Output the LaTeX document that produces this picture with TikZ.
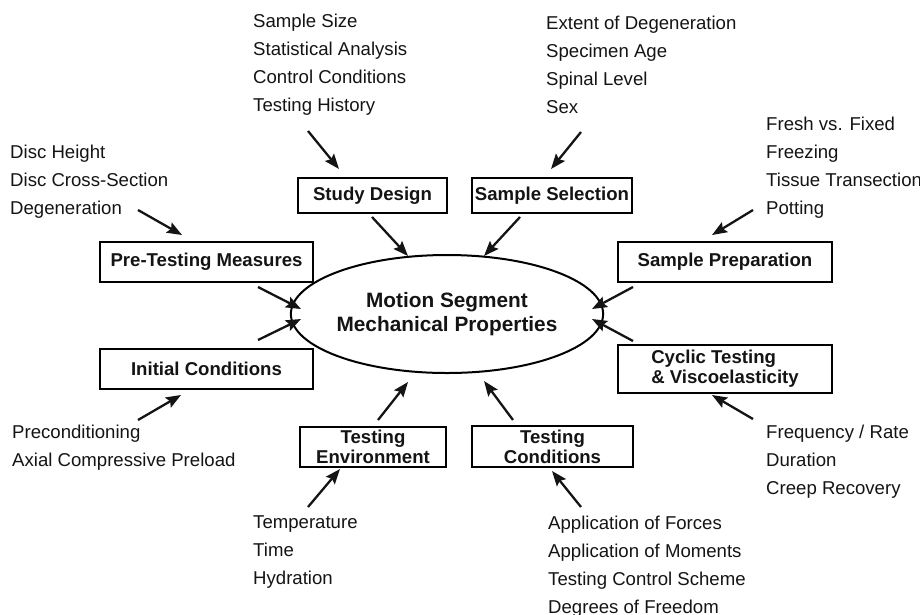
\documentclass[tikz,border=0pt]{standalone}
\usepackage{fontspec}
\setmainfont{Liberation Sans}
\usetikzlibrary{arrows.meta,shapes.geometric}
\tikzset{
  lst/.style={anchor=base west,inner sep=0pt,font=\fontsize{18.6}{22}\selectfont,text=black!92},
  boxnode/.style={draw,line width=1.4pt,inner sep=0pt,font=\fontsize{18.6}{20}\selectfont\bfseries,text=black!92},
  arr/.style={line width=2.3pt,-{Stealth[length=15pt,width=11.5pt,inset=2.5pt]},black!92},
}
\newcommand\listat[4]{%
  \foreach \t [count=\i] in {#4} {\node[lst] (#1-\i) at (#2,{#3+6.5+28*(\i-1)}) {\t};}}
\begin{document}
\begin{tikzpicture}[x=1pt,y=-1pt]
\useasboundingbox (0,0) rectangle (920,614);
% central ellipse
\node[ellipse,draw,line width=2pt,minimum width=290pt,minimum height=118pt,inner sep=0pt,
  align=center,font=\fontsize{20.8}{24}\selectfont\bfseries,text=black!92] (ms) at (447,314)
  {Motion Segment\\Mechanical Properties};
% boxes
\node[boxnode,minimum width=149pt,minimum height=35pt] (sd) at (372.5,195.5) {Study Design};
\node[boxnode,minimum width=160pt,minimum height=35pt] (ss) at (552,195.5) {Sample Selection};
\node[boxnode,minimum width=213pt,minimum height=40pt] (pt) at (206.5,262) {Pre-Testing Measures};
\node[boxnode,minimum width=214pt,minimum height=40pt] (sp) at (725,262) {Sample Preparation};
\node[boxnode,minimum width=214pt,minimum height=48pt,align=left] (ct) at (725,369) {Cyclic Testing\\\& Viscoelasticity};
\node[boxnode,minimum width=213pt,minimum height=40pt] (ic) at (206.5,369) {Initial Conditions};
\node[boxnode,minimum width=146pt,minimum height=40pt,align=center] (te) at (373,447) {Testing\\Environment};
\node[boxnode,minimum width=161pt,minimum height=41pt,align=center] (tc) at (552.5,446.5) {Testing\\Conditions};
% lists
\listat{lpt}{10}{152}{Disc Height,Disc Cross-Section,Degeneration}
\listat{lsd}{253}{21}{Sample Size,Statistical Analysis,Control Conditions,Testing History}
\listat{lss}{546}{23}{Extent of Degeneration,Specimen Age,Spinal Level,Sex}
\listat{lsp}{766}{124}{Fresh vs. Fixed,Freezing,Tissue Transection,Potting}
\listat{lct}{766}{432}{Frequency / Rate,Duration,Creep Recovery}
\listat{ltc}{548}{523}{Application of Forces,Application of Moments,Testing Control Scheme,Degrees of Freedom}
\listat{lte}{253}{522}{Temperature,Time,Hydration}
\listat{lic}{12}{432}{Preconditioning,Axial Compressive Preload}
% arrow end points
\coordinate (a1s) at (138,210); \coordinate (a1e) at (182,235);
\coordinate (a2s) at (308,131); \coordinate (a2e) at (339,169);
\coordinate (a3s) at (581,132); \coordinate (a3e) at (551,169);
\coordinate (a4s) at (753,210); \coordinate (a4e) at (712,235);
\coordinate (a5s) at (372,217); \coordinate (a5e) at (408,256);
\coordinate (a6s) at (520,217); \coordinate (a6e) at (484,256);
\coordinate (a7s) at (258,287); \coordinate (a7e) at (301,309);
\coordinate (a8s) at (258,340); \coordinate (a8e) at (301,319);
\coordinate (a9s) at (633,287); \coordinate (a9e) at (592,309);
\coordinate (a10s) at (633,341); \coordinate (a10e) at (592,319);
\coordinate (a11s) at (753,419); \coordinate (a11e) at (712,395);
\coordinate (a12s) at (138,420); \coordinate (a12e) at (181,395);
\coordinate (a13s) at (378,420); \coordinate (a13e) at (408,382);
\coordinate (a14s) at (308,507); \coordinate (a14e) at (340,469);
\coordinate (a15s) at (513,420); \coordinate (a15e) at (484,381);
\coordinate (a16s) at (581,507); \coordinate (a16e) at (552,471);
\foreach \k in {1,...,16} {\draw[arr] (a\k s) -- (a\k e);}
\end{tikzpicture}
\end{document}
